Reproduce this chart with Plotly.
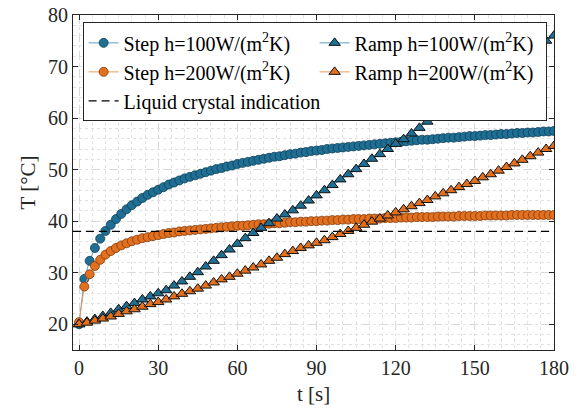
import plotly.graph_objects as go

# ---------------- data ----------------
t_step = list(range(0, 181, 2))
T_step_100 = [20.0, 28.8, 32.3, 34.8, 36.6, 38.1, 39.3, 40.4, 41.4, 42.3,
              43.1, 43.8, 44.5, 45.1, 45.6, 46.1, 46.6, 47.1, 47.5, 47.9,
              48.3, 48.6, 48.9, 49.2, 49.5, 49.8, 50.1, 50.3, 50.6, 50.8,
              51.1, 51.3, 51.5, 51.7, 51.9, 52.1, 52.3, 52.5, 52.6, 52.8,
              53.0, 53.1, 53.3, 53.4, 53.6, 53.7, 53.8, 54.0, 54.1, 54.2,
              54.3, 54.4, 54.5, 54.6, 54.7, 54.8, 54.9, 55.0, 55.1, 55.2,
              55.3, 55.4, 55.5, 55.6, 55.7, 55.8, 55.8, 55.9, 56.0, 56.1,
              56.2, 56.2, 56.3, 56.4, 56.5, 56.5, 56.6, 56.7, 56.7, 56.8,
              56.9, 56.9, 57.0, 57.1, 57.1, 57.2, 57.2, 57.3, 57.4, 57.4,
              57.5]
T_step_200 = [20.4, 27.3, 29.7, 31.3, 32.5, 33.5, 34.2, 34.8, 35.3, 35.7,
              36.1, 36.4, 36.7, 36.9, 37.1, 37.3, 37.5, 37.7, 37.8, 38.0,
              38.1, 38.2, 38.3, 38.4, 38.5, 38.6, 38.7, 38.8, 38.9, 39.0,
              39.1, 39.1, 39.2, 39.3, 39.4, 39.4, 39.5, 39.6, 39.6, 39.7,
              39.8, 39.8, 39.9, 39.9, 40.0, 40.0, 40.1, 40.1, 40.2, 40.2,
              40.3, 40.3, 40.4, 40.4, 40.4, 40.5, 40.5, 40.5, 40.6, 40.6,
              40.6, 40.7, 40.7, 40.7, 40.8, 40.8, 40.8, 40.8, 40.9, 40.9,
              40.9, 40.9, 41.0, 41.0, 41.0, 41.0, 41.0, 41.1, 41.1, 41.1,
              41.1, 41.1, 41.2, 41.2, 41.2, 41.2, 41.2, 41.2, 41.2, 41.2,
              41.2]

t_ramp = list(range(0, 181, 3))
T_ramp_100 = [20.0, 20.5, 21.0, 21.6, 22.2, 22.9, 23.5, 24.1, 24.8, 25.4,
              26.0, 26.6, 27.5, 28.3, 29.2, 30.1, 31.2, 32.3, 33.4, 34.5,
              35.6, 36.7, 37.7, 38.7, 39.6, 40.5, 41.3, 42.1, 43.0, 44.0,
              45.0, 46.0, 47.0, 48.1, 49.1, 50.1, 51.1, 52.1, 53.0, 54.0,
              55.0, 55.9, 57.0, 58.1, 59.3, 60.5, 61.5, 62.6, 63.7, 64.8,
              65.9, 67.0, 68.0, 69.0, 70.0, 71.0, 72.0, 73.0, 74.0, 75.0,
              76.0]
T_ramp_200 = [20.0, 20.3, 20.7, 21.1, 21.5, 22.0, 22.5, 22.9, 23.4, 23.9,
              24.3, 24.8, 25.4, 25.9, 26.4, 26.9, 27.5, 28.1, 28.7, 29.2,
              29.8, 30.4, 31.0, 31.6, 32.3, 32.9, 33.6, 34.2, 34.8, 35.3,
              35.8, 36.3, 36.9, 37.5, 38.1, 38.7, 39.3, 39.9, 40.5, 41.1,
              41.7, 42.3, 42.9, 43.5, 44.1, 44.8, 45.4, 46.0, 46.6, 47.2,
              47.8, 48.5, 49.1, 49.8, 50.5, 51.2, 51.9, 52.6, 53.3, 54.0,
              54.6]

T_indication = 38.0
t_span = [-2.3, 180]

names = ["Step h=100W/(m<sup>2</sup>K)", "Step h=200W/(m<sup>2</sup>K)",
         "Ramp h=100W/(m<sup>2</sup>K)", "Ramp h=200W/(m<sup>2</sup>K)",
         "Liquid crystal indication"]
x_ticks = [0, 30, 60, 90, 120, 150, 180]
y_ticks = [20, 30, 40, 50, 60, 70, 80]

# ---------------- style ----------------
BLUE = "#1f6f94"
BLUE_EDGE = "#0e3f56"
BLUE_LINE = "#5f9fc4"
ORANGE = "#e2701f"
ORANGE_EDGE = "#7d3a0c"
ORANGE_LINE = "#ee9a5e"
AX = "#262626"
FONT = "Liberation Serif, Times New Roman, DejaVu Serif, serif"

fig = go.Figure()
fig.add_trace(go.Scatter(x=t_step, y=T_step_100, name=names[0], mode="lines+markers",
                         line=dict(color=BLUE_LINE, width=1),
                         marker=dict(symbol="circle", size=9, color=BLUE,
                                     line=dict(color=BLUE_EDGE, width=0.8)),
                         legendrank=1))
fig.add_trace(go.Scatter(x=t_step, y=T_step_200, name=names[1], mode="lines+markers",
                         line=dict(color=ORANGE_LINE, width=1),
                         marker=dict(symbol="circle", size=9, color=ORANGE,
                                     line=dict(color=ORANGE_EDGE, width=0.8)),
                         legendrank=3))
fig.add_trace(go.Scatter(x=t_ramp, y=T_ramp_100, name=names[2], mode="lines+markers",
                         line=dict(color=BLUE_LINE, width=1),
                         marker=dict(symbol="triangle-up", size=10, color=BLUE,
                                     line=dict(color="#111111", width=1)),
                         legendrank=2))
fig.add_trace(go.Scatter(x=t_ramp, y=T_ramp_200, name=names[3], mode="lines+markers",
                         line=dict(color=ORANGE_LINE, width=1),
                         marker=dict(symbol="triangle-up", size=10, color=ORANGE,
                                     line=dict(color="#111111", width=1)),
                         legendrank=4))
fig.add_trace(go.Scatter(x=t_span, y=[T_indication, T_indication], name=names[4],
                         mode="lines", line=dict(color="black", width=1.2, dash="8px,5px"),
                         legendrank=5))

axis_common = dict(
    showline=True, linecolor=AX, linewidth=1, mirror="ticks",
    ticks="inside", ticklen=5, tickcolor=AX, tickwidth=1,
    showgrid=True, gridcolor="#d9d9d9", gridwidth=1, griddash="dash",
    zeroline=False, automargin=False, ticklabeloverflow="allow",
    tickfont=dict(family=FONT, size=20, color=AX),
    title_font=dict(family=FONT, size=21, color=AX),
)

fig.update_xaxes(range=t_span, tickvals=x_ticks, title_text="t [s]", title_standoff=8,
                 minor=dict(dtick=5, tick0=0, showgrid=True, gridcolor="#e2e2e2",
                            griddash="dot", gridwidth=1),
                 **axis_common)
fig.update_yaxes(range=[15, 80], tickvals=y_ticks, title_text="T [°C]", title_standoff=6,
                 minor=dict(dtick=2, tick0=0, showgrid=True, gridcolor="#e2e2e2",
                            griddash="dot", gridwidth=1),
                 **axis_common)

fig.update_layout(
    width=579, height=414,
    margin=dict(l=73, r=25, t=15, b=64, autoexpand=False),
    paper_bgcolor="white", plot_bgcolor="white",
    font=dict(family=FONT, size=20, color=AX),
    showlegend=True,
    legend=dict(orientation="h", x=0.02, y=0.978, xanchor="left", yanchor="top",
                entrywidth=186, entrywidthmode="pixels",
                bgcolor="white", bordercolor=AX, borderwidth=1,
                font=dict(family=FONT, size=20, color="black"),
                tracegroupgap=0, itemwidth=30),
)

# remove the default 8px page margin so the figure fills the window exactly
fig.write_html("out.html", config={"displayModeBar": False},
               post_script="document.body.style.margin='0';document.body.style.overflow='hidden';")
